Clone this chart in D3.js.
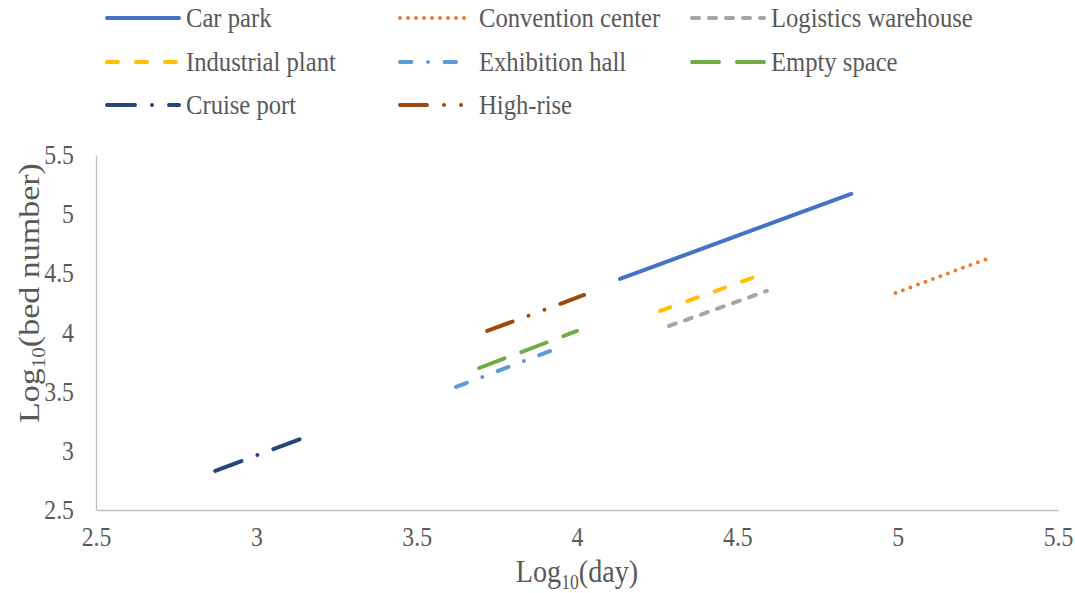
<!DOCTYPE html>
<html>
<head>
<meta charset="utf-8">
<script src="https://cdn.jsdelivr.net/npm/d3@7"></script>
<style>
  body { margin: 0; background: #fff; }
  svg text { font-family: "Liberation Serif", "Times New Roman", serif; fill: #595959; }
</style>
</head>
<body>
<script>
// series names and endpoints (log10 day, log10 bed number)
var names = ["Car park", "Convention center", "Logistics warehouse", "Industrial plant",
             "Exhibition hall", "Empty space", "Cruise port", "High-rise"];
var dayStart = [4.134, 4.993, 4.287, 4.259, 3.623, 3.695, 2.872, 3.720];
var dayEnd   = [4.855, 5.286, 4.592, 4.555, 3.925, 4.000, 3.146, 4.022];
var bedStart = [4.453, 4.334, 4.055, 4.182, 3.540, 3.700, 2.830, 4.013];
var bedEnd   = [5.171, 4.630, 4.351, 4.470, 3.852, 4.013, 3.109, 4.317];
var xTicks = [2.5, 3, 3.5, 4, 4.5, 5, 5.5];
var yTicks = [2.5, 3, 3.5, 4, 4.5, 5, 5.5];

var colors = ["#4472C4", "#ED7D31", "#A5A5A5", "#FFC000", "#5B9BD5", "#70AD47", "#264478", "#9E480E"];
var dashes = [null, "0 8", "7 10", "11 18", "11.5 16.5 0 16.5", "27 18", "28 17 0 17", "27 17 0 17 0 17"];

var W = 1075, H = 593;
var margin = {top: 155, right: 16, bottom: 83, left: 96};
var width = W - margin.left - margin.right,
    height = H - margin.top - margin.bottom;
var squeeze = 0.88; // text in the picture is narrow

var svg = d3.select("body").append("svg")
    .attr("width", W)
    .attr("height", H);

var g = svg.append("g")
    .attr("transform", "translate(" + margin.left + "," + margin.top + ")");

var x = d3.scaleLinear().domain([2.5, 5.5]).range([0, width - 1]);
var y = d3.scaleLinear().domain([2.5, 5.5]).range([height, 0]);

// axes
var xAxis = g.append("g")
    .attr("transform", "translate(0," + height + ")")
    .call(d3.axisBottom(x).tickValues(xTicks).tickSize(0).tickPadding(17)
        .tickFormat(function(d) { return d; }));
var yAxis = g.append("g")
    .call(d3.axisLeft(y).tickValues(yTicks).tickSize(0).tickPadding(22 / squeeze)
        .tickFormat(function(d) { return d; }));

[xAxis, yAxis].forEach(function(a) {
  a.attr("font-family", "'Liberation Serif', serif").attr("font-size", 27);
  a.select(".domain").attr("stroke", "#BFBFBF").attr("stroke-width", 1.3);
  a.selectAll("text")
    .style("font-family", "'Liberation Serif', serif")
    .style("font-size", "27px")
    .attr("fill", "#595959")
    .attr("transform", "scale(" + squeeze + ",1)");
});

// axis titles
var xt = svg.append("text")
    .attr("transform", "translate(577,582) scale(" + squeeze + ",1)")
    .attr("text-anchor", "middle")
    .style("font-size", "32px");
xt.append("tspan").text("Log");
xt.append("tspan").attr("dy", 7).style("font-size", "20px").text("10");
xt.append("tspan").attr("dy", -7).text("(day)");

// rotated title: the narrow squeeze works across the letters, not along the line
var yt = svg.append("text")
    .attr("transform", "translate(39,293) scale(" + squeeze + ",1) rotate(-90)")
    .attr("text-anchor", "middle")
    .style("font-size", "34px");
yt.append("tspan").text("Log");
yt.append("tspan").attr("dy", 7).style("font-size", "21px").text("10");
yt.append("tspan").attr("dy", -7).text("(bed number)");

// lines
var line = d3.line()
    .x(function(d) { return x(d[0]); })
    .y(function(d) { return y(d[1]); });

names.forEach(function(n, i) {
  g.append("path")
    .datum([[dayStart[i], bedStart[i]], [dayEnd[i], bedEnd[i]]])
    .attr("fill", "none")
    .attr("stroke", colors[i])
    .attr("stroke-width", 4)
    .attr("stroke-linecap", "round")
    .attr("stroke-dasharray", dashes[i])
    .attr("d", line);
});

// legend
var colX = [107, 400, 692],
    rowY = [18, 62, 105];

names.forEach(function(n, i) {
  var lx = colX[i % 3], ly = rowY[Math.floor(i / 3)];
  svg.append("line")
    .attr("x1", lx).attr("x2", lx + 72)
    .attr("y1", ly).attr("y2", ly)
    .attr("stroke", colors[i])
    .attr("stroke-width", 4)
    .attr("stroke-linecap", "round")
    .attr("stroke-dasharray", dashes[i]);
  svg.append("text")
    .attr("transform", "translate(" + (lx + 79) + "," + (ly + 9) + ") scale(" + squeeze + ",1)")
    .style("font-size", "28px")
    .text(n);
});
</script>
</body>
</html>
